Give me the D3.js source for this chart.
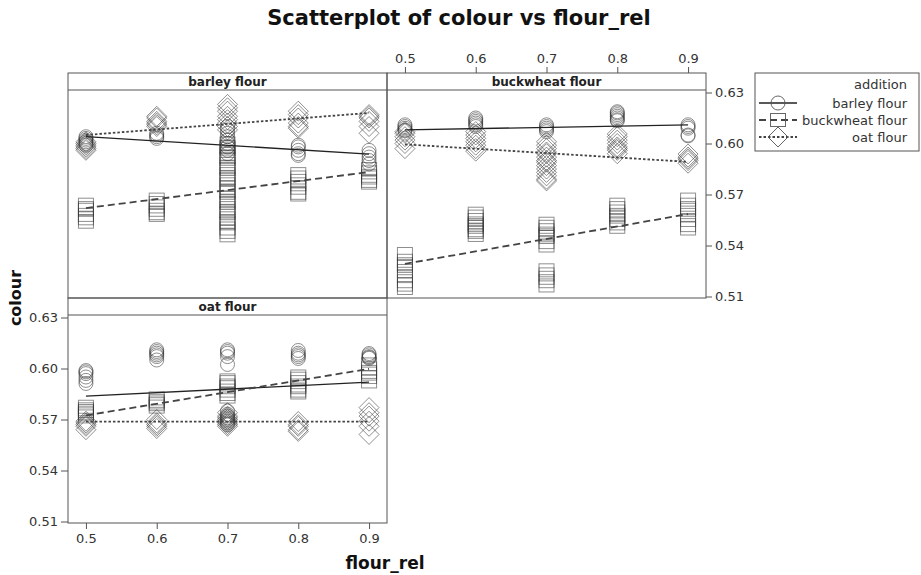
<!DOCTYPE html>
<html><head><meta charset="utf-8">
<script src="https://cdn.jsdelivr.net/npm/d3@7"></script>
<style>body{margin:0;background:#fff}svg{display:block}</style>
</head><body>
<svg id="c" width="921" height="575"></svg>
<script>
// ---------- data ----------
const flourRel = [0.5, 0.6, 0.7, 0.8, 0.9];
const panelNames = ["barley flour", "buckwheat flour", "oat flour"];
const additionNames = ["barley flour", "buckwheat flour", "oat flour"];
const xTicks = [0.5, 0.6, 0.7, 0.8, 0.9];
const yTicks = [0.51, 0.54, 0.57, 0.60, 0.63];

// panel "barley flour": values of colour per flour_rel (0.5..0.9)
const barleyPanelBarley = [
  [0.604, 0.603, 0.602, 0.601, 0.600, 0.599],
  [0.606, 0.605, 0.604, 0.603],
  [0.610, 0.608, 0.606, 0.604, 0.602, 0.600, 0.598, 0.596, 0.594],
  [0.599, 0.598, 0.596, 0.594, 0.593],
  [0.596, 0.594, 0.592, 0.590, 0.588]];
const barleyPanelBuckwheat = [
  [0.564, 0.562, 0.561, 0.558, 0.556, 0.554],
  [0.567, 0.565, 0.563, 0.561, 0.559, 0.558],
  [0.600, 0.598, 0.597, 0.594, 0.592, 0.591, 0.588, 0.586, 0.585, 0.582, 0.580, 0.579, 0.576, 0.574, 0.572, 0.571, 0.568, 0.566, 0.565, 0.562, 0.560, 0.559, 0.556, 0.554, 0.553, 0.550, 0.548, 0.546],
  [0.582, 0.580, 0.578, 0.576, 0.574, 0.571, 0.570],
  [0.585, 0.583, 0.581, 0.580, 0.578, 0.577]];
const barleyPanelOat = [
  [0.601, 0.600, 0.599, 0.598, 0.597, 0.596],
  [0.616, 0.615, 0.613, 0.612, 0.611, 0.610],
  [0.623, 0.621, 0.619, 0.616, 0.614, 0.612, 0.610, 0.608],
  [0.619, 0.617, 0.615, 0.612, 0.610, 0.609],
  [0.617, 0.616, 0.615, 0.613, 0.610, 0.606]];

// panel "buckwheat flour"
const buckwheatPanelBarley = [
  [0.611, 0.610, 0.609, 0.608, 0.6075],
  [0.615, 0.614, 0.613, 0.612, 0.611, 0.610],
  [0.611, 0.610, 0.609, 0.608, 0.607],
  [0.6187, 0.618, 0.617, 0.616, 0.615, 0.614, 0.6134],
  [0.611, 0.610, 0.609, 0.605, 0.6045]];
const buckwheatPanelBuckwheat = [
  [0.535, 0.531, 0.529, 0.528, 0.525, 0.522, 0.519, 0.517, 0.515],
  [0.5587, 0.557, 0.555, 0.553, 0.552, 0.551, 0.549, 0.548, 0.5462],
  [0.5528, 0.551, 0.549, 0.547, 0.546, 0.545, 0.542, 0.540, 0.5254, 0.523, 0.521, 0.519, 0.5165],
  [0.564, 0.562, 0.560, 0.558, 0.557, 0.555, 0.553, 0.551],
  [0.567, 0.564, 0.562, 0.561, 0.558, 0.555, 0.552, 0.550]];
const buckwheatPanelOat = [
  [0.607, 0.606, 0.604, 0.602, 0.600, 0.597],
  [0.607, 0.605, 0.603, 0.601, 0.599, 0.597, 0.5955],
  [0.601, 0.599, 0.597, 0.595, 0.594, 0.592, 0.590, 0.589, 0.587, 0.585, 0.583, 0.581, 0.579, 0.578],
  [0.6056, 0.604, 0.602, 0.600, 0.598, 0.597, 0.596, 0.594],
  [0.5938, 0.592, 0.591, 0.590, 0.5884]];

// panel "oat flour"
const oatPanelBarley = [
  [0.5988, 0.598, 0.597, 0.595, 0.593, 0.5912],
  [0.611, 0.610, 0.609, 0.608, 0.607, 0.605],
  [0.611, 0.610, 0.609, 0.607, 0.6024, 0.575, 0.573, 0.572, 0.571, 0.570, 0.569, 0.568, 0.567],
  [0.6106, 0.609, 0.608, 0.607, 0.6059],
  [0.6088, 0.608, 0.607, 0.6065, 0.606]];
const oatPanelBuckwheat = [
  [0.5775, 0.576, 0.575, 0.574, 0.573, 0.5718],
  [0.5824, 0.581, 0.580, 0.579, 0.5776],
  [0.593, 0.592, 0.590, 0.589, 0.587, 0.585, 0.5835],
  [0.5953, 0.594, 0.592, 0.590, 0.589, 0.587, 0.5859],
  [0.6024, 0.600, 0.598, 0.597, 0.595, 0.5924]];
const oatPanelOat = [
  [0.569, 0.568, 0.567, 0.566, 0.564],
  [0.570, 0.568, 0.567, 0.566, 0.5647],
  [0.574, 0.572, 0.571, 0.570, 0.569, 0.568, 0.567, 0.566],
  [0.5688, 0.567, 0.566, 0.564, 0.563],
  [0.577, 0.574, 0.572, 0.569, 0.566, 0.5612]];

// fitted lines: colour at flour_rel 0.5 and 0.9 (order: barley, buckwheat, oat addition)
const fitBarleyPanel = [[0.604, 0.5938], [0.562, 0.5832], [0.605, 0.618]];
const fitBuckwheatPanel = [[0.608, 0.611], [0.5292, 0.5585], [0.5995, 0.5892]];
const fitOatPanel = [[0.5837, 0.592], [0.5724, 0.5998], [0.5688, 0.5688]];
const fitX = [0.5, 0.9];

// ---------- drawing ----------
const svg = d3.select("#c");
const FONT = "DejaVu Sans, Verdana, sans-serif";
const frameCol = "#555";

const panels = [
  {name: panelNames[0], L: 68, T: 73, series: [barleyPanelBarley, barleyPanelBuckwheat, barleyPanelOat], fit: fitBarleyPanel},
  {name: panelNames[1], L: 387, T: 73, series: [buckwheatPanelBarley, buckwheatPanelBuckwheat, buckwheatPanelOat], fit: fitBuckwheatPanel},
  {name: panelNames[2], L: 68, T: 298, series: [oatPanelBarley, oatPanelBuckwheat, oatPanelOat], fit: fitOatPanel}
];
const W = 319, STRIP = 17, PH = 208;

function symbol(g, type, cx, cy, opts) {
  const o = Object.assign({stroke: "#333", op: 0.55}, opts || {});
  if (type === 0) {
    g.append("circle").attr("cx", cx).attr("cy", cy).attr("r", 7)
      .attr("fill", "none").attr("stroke", o.stroke).attr("stroke-opacity", o.op);
  } else if (type === 1) {
    g.append("rect").attr("x", cx - 7.5).attr("y", cy - 6.5).attr("width", 15).attr("height", 13)
      .attr("fill", "none").attr("stroke", o.stroke).attr("stroke-opacity", o.op);
  } else {
    const h = 10;
    g.append("path").attr("d", `M${cx},${cy - h}L${cx + h},${cy}L${cx},${cy + h}L${cx - h},${cy}Z`)
      .attr("fill", "none").attr("stroke", o.stroke).attr("stroke-opacity", o.op);
  }
}
const lineStyles = [
  {dash: null, w: 1.3, col: "#222"},
  {dash: "7,4", w: 1.8, col: "#444"},
  {dash: "2.5,2", w: 1.8, col: "#444"}
];

panels.forEach(p => {
  const pt = p.T + STRIP;
  const x = d3.scaleLinear().domain([0.5 - 18 / 710, 0.9 + 18 / 710]).range([p.L, p.L + W]);
  const y = d3.scaleLinear().domain([0.63 - 205.5 / 1700, 0.63 + 2.5 / 1700]).range([pt + PH, pt]);
  p.x = x; p.y = y; p.pt = pt;
  const g = svg.append("g");
  const clipId = "clip" + p.L + p.T;
  svg.append("clipPath").attr("id", clipId).append("rect")
    .attr("x", p.L).attr("y", pt).attr("width", W).attr("height", PH);
  const gp = g.append("g").attr("clip-path", `url(#${clipId})`);
  // points
  p.series.forEach((ser, si) => {
    ser.forEach((vals, xi) => {
      vals.forEach(v => symbol(gp, si, x(flourRel[xi]), y(v)));
    });
  });
  // fitted lines
  p.fit.forEach((f, si) => {
    const st = lineStyles[si];
    gp.append("line").attr("x1", x(fitX[0])).attr("x2", x(fitX[1]))
      .attr("y1", y(f[0])).attr("y2", y(f[1]))
      .attr("stroke", st.col).attr("stroke-width", st.w)
      .attr("stroke-dasharray", st.dash);
  });
  // frames
  g.append("rect").attr("x", p.L).attr("y", p.T).attr("width", W).attr("height", STRIP + PH)
    .attr("fill", "none").attr("stroke", frameCol);
  g.append("line").attr("x1", p.L).attr("x2", p.L + W).attr("y1", pt).attr("y2", pt).attr("stroke", frameCol);
  g.append("text").attr("x", p.L + W / 2).attr("y", p.T + 13).attr("text-anchor", "middle")
    .attr("font-family", FONT).attr("font-weight", "bold").attr("font-size", 12).attr("fill", "#222")
    .text(p.name);
});

function styleAxis(g) {
  g.select(".domain").remove();
  g.selectAll(".tick line").attr("stroke", frameCol);
  g.selectAll(".tick text").attr("font-family", FONT).attr("font-size", 13).attr("fill", "#333");
}
const fmt2 = d3.format(".2f"), fmt1 = d3.format(".1f");
// left axis on oat panel
const pC = panels[2], pB = panels[1];
svg.append("g").attr("transform", `translate(${pC.L},0)`)
  .call(d3.axisLeft(pC.y).tickValues(yTicks).tickFormat(fmt2).tickSize(7).tickPadding(3)).call(styleAxis);
// bottom axis on oat panel
svg.append("g").attr("transform", `translate(0,${pC.pt + PH})`)
  .call(d3.axisBottom(pC.x).tickValues(xTicks).tickFormat(fmt1).tickSize(6).tickPadding(5)).call(styleAxis);
// right axis on buckwheat panel
svg.append("g").attr("transform", `translate(${pB.L + W},0)`)
  .call(d3.axisRight(pB.y).tickValues(yTicks).tickFormat(fmt2).tickSize(6).tickPadding(3)).call(styleAxis);
// top axis on buckwheat panel
svg.append("g").attr("transform", `translate(0,${pB.T})`)
  .call(d3.axisTop(pB.x).tickValues(xTicks).tickFormat(fmt1).tickSize(6).tickPadding(4)).call(styleAxis);

// titles
svg.append("text").attr("x", 459).attr("y", 25).attr("text-anchor", "middle")
  .attr("font-family", FONT).attr("font-weight", "bold").attr("font-size", 21).attr("fill", "#111")
  .text("Scatterplot of colour vs flour_rel");
svg.append("text").attr("x", 385).attr("y", 569).attr("text-anchor", "middle")
  .attr("font-family", FONT).attr("font-weight", "bold").attr("font-size", 17).attr("fill", "#111")
  .text("flour_rel");
svg.append("text").attr("transform", "translate(21,298) rotate(-90)").attr("text-anchor", "middle")
  .attr("font-family", FONT).attr("font-weight", "bold").attr("font-size", 16).attr("fill", "#111")
  .text("colour");

// legend
const lg = svg.append("g");
lg.append("rect").attr("x", 755).attr("y", 73).attr("width", 164).attr("height", 78)
  .attr("fill", "#fff").attr("stroke", frameCol);
lg.append("text").attr("x", 907).attr("y", 89).attr("text-anchor", "end")
  .attr("font-family", FONT).attr("font-size", 13).attr("fill", "#333").text("addition");
additionNames.forEach((n, i) => {
  const cy = 103 + i * 17;
  const st = lineStyles[i];
  lg.append("line").attr("x1", 759).attr("x2", 797).attr("y1", cy).attr("y2", cy)
    .attr("stroke", st.col).attr("stroke-width", st.w).attr("stroke-dasharray", st.dash);
  symbol(lg, i, 778, cy, {stroke: "#555", op: 0.9});
  lg.append("text").attr("x", 907).attr("y", cy + 4.5).attr("text-anchor", "end")
    .attr("font-family", FONT).attr("font-size", 13).attr("fill", "#333").text(n);
});
</script>
</body></html>
